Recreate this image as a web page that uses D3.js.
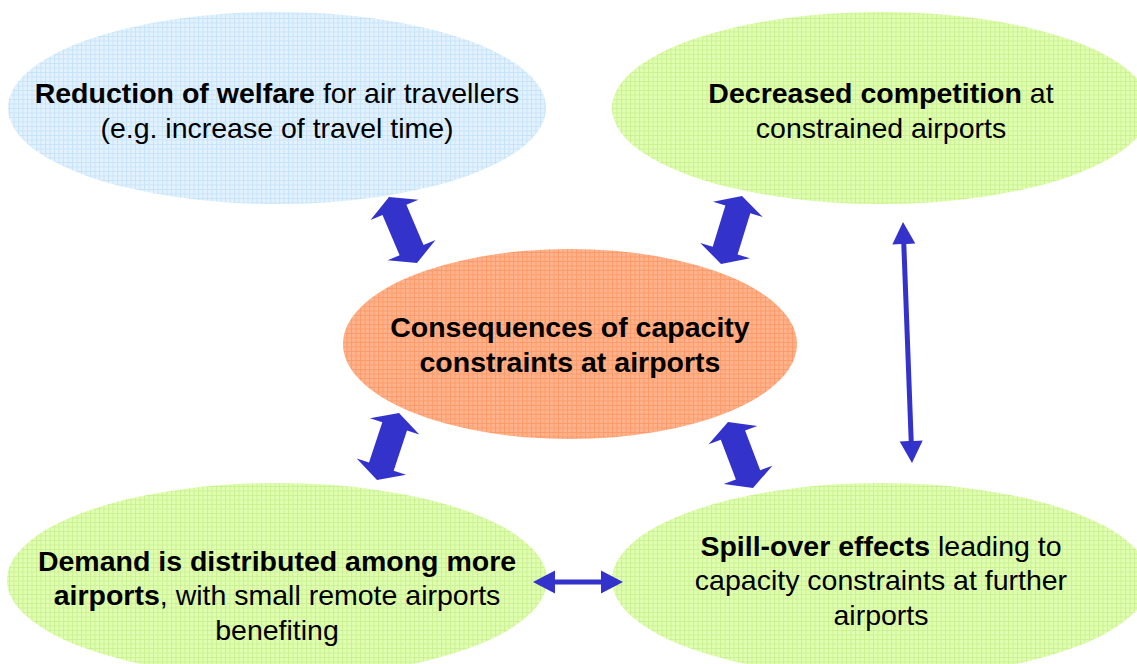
<!DOCTYPE html>
<html>
<head>
<meta charset="utf-8">
<script src="https://cdn.jsdelivr.net/npm/d3@7"></script>
<style>
  body { margin: 0; background: #fff; }
  svg { display: block; font-family: "Liberation Sans", Arial, sans-serif; }
</style>
</head>
<body>
<div id="chart"></div>
<script>
// les données du schéma
const nodeIds = ["welfare", "competition", "core", "demand", "spillover"];
// chaque ligne = [partie en gras, partie normale]
const nodeLines = [
  [["Reduction of welfare", " for air travellers"], ["", "(e.g. increase of travel time)"]],
  [["Decreased competition", " at"], ["", "constrained airports"]],
  [["Consequences of capacity", ""], ["constraints at airports", ""]],
  [["Demand is distributed among more", ""], ["airports", ", with small remote airports"], ["", "benefiting"]],
  [["Spill-over effects", " leading to"], ["", "capacity constraints at further"], ["", "airports"]]
];
const linkSource = ["welfare", "competition", "core", "core", "competition", "demand"];
const linkTarget = ["core", "core", "demand", "spillover", "spillover", "spillover"];
const linkKind = ["strong", "strong", "strong", "strong", "weak", "weak"];

// mise en page (positions, tailles, styles)
const WIDTH = 1137
const HEIGHT = 664

const layout = {
  welfare:     { col: 0,    row: 0, rx: 269, ry: 96, dy: 2,  fill: "blue" },
  competition: { col: 2,    row: 0, rx: 269, ry: 96, dy: 2,  fill: "green" },
  core:        { col: 0.97, row: 1, rx: 227, ry: 95, dy: 0,  fill: "orange" },
  demand:      { col: 0,    row: 2, rx: 270, ry: 97, dy: 15, fill: "green" },
  spillover:   { col: 2,    row: 2, rx: 269, ry: 97, dy: 0,  fill: "green" }
};

// extrémités des flèches (pointe 1 -> pointe 2), dans l'ordre des liens
const arrowEnds = [
  [[389, 197], [417, 263]],
  [[742, 196], [721, 264]],
  [[399, 413], [377, 480]],
  [[728, 422], [753, 488]],
  [[903, 222], [912, 463]],
  [[533, 582], [623, 582]]
];
const arrowStyle = {
  strong: { shaft: 26, head: 52, headLen: 14 },
  weak:   { shaft: 5,  head: 23, headLen: 22 }
};
const fills = {
  blue:   { base: "#e2f2ff", line: "#c8e3f8" },
  green:  { base: "#e0ffb0", line: "#cbf094" },
  orange: { base: "#ffb38c", line: "#ff9a68" }
};
const ARROW_COLOR = "#3333cc";
const FONT_SIZE = 28.5;
const LINE_H = 34.5;

const x = d3.scaleLinear().domain([0, 2]).range([277, 881]);
const y = d3.scaleLinear().domain([0, 2]).range([108, 580]);

const svg = d3.select("#chart")
    .append("svg")
    .attr("width", WIDTH)
    .attr("height", HEIGHT);

svg.append("rect")
    .attr("width", WIDTH)
    .attr("height", HEIGHT)
    .attr("fill", "#fff");

// motifs quadrillés
const defs = svg.append("defs");
Object.entries(fills).forEach(([name, c]) => {
  const p = defs.append("pattern")
      .attr("id", "grid-" + name)
      .attr("patternUnits", "userSpaceOnUse")
      .attr("width", 4.5)
      .attr("height", 4.5);
  p.append("rect").attr("width", 4.5).attr("height", 4.5).attr("fill", c.base);
  p.append("path")
      .attr("d", "M0 0.5H4.5M0.5 0V4.5")
      .attr("stroke", c.line)
      .attr("stroke-width", 1);
});

const nodes = nodeIds.map((id, i) => ({
  id: id,
  lines: nodeLines[i],
  cx: x(layout[id].col),
  cy: y(layout[id].row),
  ...layout[id]
}));

// ellipses
svg.append("g").selectAll("ellipse")
    .data(nodes)
    .enter()
    .append("ellipse")
    .attr("cx", d => d.cx)
    .attr("cy", d => d.cy)
    .attr("rx", d => d.rx)
    .attr("ry", d => d.ry)
    .attr("fill", d => "url(#grid-" + d.fill + ")");

// flèches doubles
function doubleArrow(p1, p2, s) {
  const dx = p2[0] - p1[0], dy = p2[1] - p1[1];
  const len = Math.hypot(dx, dy);
  const ux = dx / len, uy = dy / len;   // axe
  const nx = -uy, ny = ux;              // normale
  const pt = (t, w) => [p1[0] + ux * t + nx * w, p1[1] + uy * t + ny * w];
  const h = s.headLen, hw = s.head / 2, sw = s.shaft / 2;
  const pts = [
    pt(0, 0), pt(h, hw), pt(h, sw), pt(len - h, sw), pt(len - h, hw),
    pt(len, 0), pt(len - h, -hw), pt(len - h, -sw), pt(h, -sw), pt(h, -hw)
  ];
  return "M" + pts.map(p => p[0].toFixed(1) + "," + p[1].toFixed(1)).join("L") + "Z";
}

const links = linkSource.map((s, i) => ({
  source: s, target: linkTarget[i], kind: linkKind[i], ends: arrowEnds[i]
}));

svg.append("g").selectAll("path")
    .data(links)
    .enter()
    .append("path")
    .attr("d", d => doubleArrow(d.ends[0], d.ends[1], arrowStyle[d.kind]))
    .attr("fill", ARROW_COLOR);

// textes
const labels = svg.append("g").selectAll("g")
    .data(nodes)
    .enter()
    .append("g");

labels.each(function (d) {
  const n = d.lines.length;
  d.lines.forEach((line, i) => {
    const t = d3.select(this).append("text")
        .attr("x", d.cx)
        .attr("y", d.cy + d.dy + (i - (n - 1) / 2) * LINE_H + FONT_SIZE * 0.36)
        .attr("text-anchor", "middle")
        .attr("font-size", FONT_SIZE)
        .attr("fill", "#000");
    if (line[0]) t.append("tspan").attr("font-weight", "bold").text(line[0]);
    if (line[1]) t.append("tspan").text(line[1]);
  });
});
</script>
</body>
</html>
